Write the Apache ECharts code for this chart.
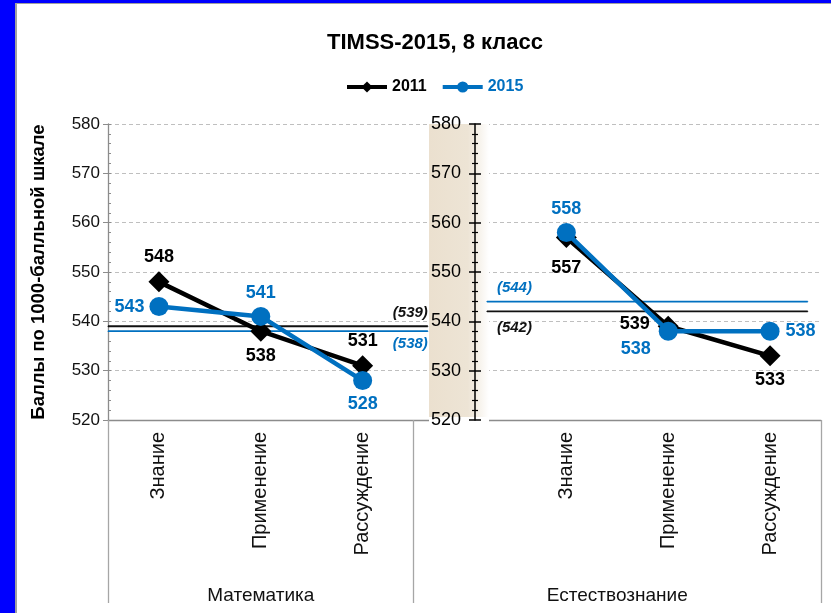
<!DOCTYPE html>
<html>
<head>
<meta charset="utf-8">
<script src="https://cdn.jsdelivr.net/npm/echarts@6/dist/echarts.min.js"></script>
<style>
  html, body { margin: 0; padding: 0; background: #0000ff; }
  #wrap { position: absolute; left: 15px; top: 3px; width: 816px; height: 610px; background: #fff; border-left: 2px solid #a0a0a0; border-top: 1px solid #a0a0a0; }
  #chart { position: absolute; left: -17px; top: -4px; width: 831px; height: 613px; }
</style>
</head>
<body>
<div id="wrap"><div id="chart"></div></div>
<script>
// категории (4-я пустая — промежуток между предметами)
const categories = ['Знание', 'Применение', 'Рассуждение', '', 'Знание', 'Применение', 'Рассуждение']
const groups = ['Математика', 'Естествознание']
const groupSpans = [[0, 3], [3, 7]]
const scores2011 = [548, 538, 531, null, 557, 539, 533]
const scores2015 = [543, 541, 528, null, 558, 538, 538]
// средние значения (в скобках)
const avgMath2011 = 539
const avgMath2015 = 538
const avgSci2011 = 542
const avgSci2015 = 544

const BLUE = '#0070C0'
const ARIAL = '"Liberation Sans", Arial, sans-serif'

// позиции подписей точек
const pos2011 = ['top', 'bottom', 'top', null, 'bottom', 'left', 'bottom']
const pos2015 = ['left', 'top', 'bottom', null, 'top', 'left', 'right']

function withLabels(values, positions, extra) {
  return values.map((v, i) => {
    if (v == null) return null
    const lbl = { show: true, position: positions[i], distance: 5 }
    if (extra[i]) Object.assign(lbl, extra[i])
    return { value: v, label: lbl }
  })
}

function avgLabel(val, color, pos, align, dist, dx) {
  return {
    show: true, position: pos, align: align, distance: dist, offset: [dx, 0],
    formatter: '(' + val + ')', color: color,
    fontFamily: ARIAL, fontWeight: 'bold', fontStyle: 'italic', fontSize: 15
  }
}

function avgSeries(name, color, from, to, val, labelAt, lbl) {
  const pts = [[from, val], [to, val]]
  pts[labelAt] = { value: pts[labelAt], label: lbl }
  return {
    name: name,
    type: 'line',
    xAxisIndex: 1,
    yAxisIndex: 0,
    symbol: 'circle',
    symbolSize: 1,
    lineStyle: { color: color, width: 1.8 },
    itemStyle: { color: color },
    data: pts,
    z: 3
  }
}

const chart = echarts.init(document.getElementById('chart'))

const labelFont = { fontFamily: ARIAL, fontWeight: 'bold', fontSize: 18 }

const option = {
  animation: false,
  title: {
    text: 'TIMSS-2015, 8 класс',
    left: 322,
    top: 27,
    textStyle: { fontFamily: ARIAL, fontWeight: 'bold', fontSize: 22, color: '#000' }
  },
  legend: {
    top: 74,
    left: 340,
    itemWidth: 40,
    itemHeight: 14,
    itemGap: 14,
    textStyle: { fontFamily: ARIAL, fontWeight: 'bold', fontSize: 16 },
    data: [
      { name: '2011', textStyle: { color: '#000' }, lineStyle: { width: 4 } },
      { name: '2015', textStyle: { color: BLUE }, lineStyle: { width: 4 } }
    ]
  },
  grid: [
    { left: 108, top: 124, width: 713, height: 296 },
    { left: 475, top: 124, width: 346, height: 296 }
  ],
  xAxis: [
    {
      type: 'category',
      gridIndex: 0,
      data: categories,
      boundaryGap: true,
      axisLine: { lineStyle: { color: '#8c8c8c', width: 1.3 } },
      axisTick: { interval: 0, length: 155, lineStyle: { color: '#a6a6a6', width: 1.3 } },
      axisLabel: { interval: 0, rotate: 90, margin: 12, fontFamily: ARIAL, fontSize: 20, color: '#111' }
    },
    {
      type: 'value',
      gridIndex: 0,
      min: 0,
      max: 7,
      position: 'bottom',
      offset: 0,
      axisLine: { show: false },
      splitLine: { show: false },
      axisTick: { show: true, customValues: groupSpans.map(s => s[0]).concat([7]), length: 183, lineStyle: { color: '#a6a6a6', width: 1.3 } },
      axisLabel: {
        customValues: groupSpans.map(s => (s[0] + s[1]) / 2),
        formatter: v => {
          const i = groupSpans.findIndex(s => (s[0] + s[1]) / 2 === v)
          return i >= 0 ? groups[i] : ''
        },
        margin: 166,
        fontFamily: ARIAL,
        fontSize: 19,
        color: '#111'
      }
    },
    { type: 'value', gridIndex: 1, min: 0, max: 1, show: false }
  ],
  yAxis: [
    {
      type: 'value',
      gridIndex: 0,
      position: 'left',
      offset: 0,
      min: 520,
      max: 580,
      interval: 10,
      name: 'Баллы по 1000-балльной шкале',
      nameLocation: 'middle',
      nameGap: 60,
      nameTextStyle: { fontFamily: ARIAL, fontWeight: 'bold', fontSize: 18.5, color: '#000' },
      axisLine: { show: true, onZero: false, lineStyle: { color: '#8c8c8c', width: 1.3 } },
      axisTick: { show: true, length: 5, lineStyle: { color: '#8c8c8c' } },
      axisLabel: { margin: 8, fontFamily: ARIAL, fontSize: 17, color: '#111' },
      splitLine: { show: true, lineStyle: { color: '#bfbfbf', type: [4, 3], width: 1 } }
    },
    {
      type: 'value',
      gridIndex: 0,
      position: 'left',
      offset: 0,
      min: 520,
      max: 580,
      interval: 10,
      axisLine: { show: false, onZero: false },
      axisLabel: { show: false },
      splitLine: { show: false },
      axisTick: { show: true, inside: true, length: 3, lineStyle: { color: '#8c8c8c' } },
      minorTick: { show: true, splitNumber: 5, length: 3, lineStyle: { color: '#8c8c8c' } }
    },
    {
      type: 'value',
      gridIndex: 1,
      position: 'left',
      offset: 0,
      min: 520,
      max: 580,
      interval: 10,
      z: 10,
      axisLine: { show: true, onZero: false, lineStyle: { color: '#000', width: 1.5 } },
      axisTick: { show: true, length: 6, lineStyle: { color: '#000', width: 1.5 } },
      minorTick: { show: true, splitNumber: 5, length: 3, lineStyle: { color: '#000', width: 1.2 } },
      axisLabel: { margin: 14, fontFamily: ARIAL, fontSize: 18, color: '#000' },
      splitLine: { show: false }
    },
    {
      type: 'value',
      gridIndex: 1,
      position: 'left',
      offset: 0,
      min: 520,
      max: 580,
      interval: 10,
      z: 10,
      axisLine: { show: false, onZero: false },
      axisLabel: { show: false },
      splitLine: { show: false },
      axisTick: { show: true, inside: true, length: 6, lineStyle: { color: '#000', width: 1.5 } },
      minorTick: { show: true, splitNumber: 5, length: 3, lineStyle: { color: '#000', width: 1.2 } }
    }
  ],
  graphic: [
    {
      type: 'rect',
      z: 3,
      shape: { x: 429, y: 124, width: 60, height: 293 },
      style: {
        fill: new echarts.graphic.LinearGradient(0, 0, 1, 0, [
          { offset: 0, color: '#ebe0cf' },
          { offset: 0.65, color: '#ede4d5' },
          { offset: 1, color: '#ffffff' }
        ])
      }
    },
    {
      type: 'rect',
      z: 3,
      shape: { x: 429, y: 417, width: 60, height: 6 },
      style: { fill: '#ffffff' }
    }
  ],
  series: [
    {
      name: '2011',
      type: 'line',
      xAxisIndex: 0,
      yAxisIndex: 0,
      data: withLabels(scores2011, pos2011, {
        4: { distance: 11 },
        5: { distance: 8, offset: [0, -2] }
      }),
      connectNulls: false,
      symbol: 'diamond',
      symbolSize: 21,
      lineStyle: { color: '#000', width: 4.5 },
      itemStyle: { color: '#000' },
      label: Object.assign({ color: '#000' }, labelFont),
      z: 4
    },
    {
      name: '2015',
      type: 'line',
      xAxisIndex: 0,
      yAxisIndex: 0,
      data: withLabels(scores2015, pos2015, {
        5: { distance: 8, offset: [0, 18] },
        6: { distance: 6 }
      }),
      connectNulls: false,
      symbol: 'circle',
      symbolSize: 19,
      lineStyle: { color: BLUE, width: 4.5 },
      itemStyle: { color: BLUE },
      label: Object.assign({ color: BLUE }, labelFont),
      z: 5
    },
    // линии средних значений
    avgSeries('avgMath2011', '#111', 0, 3.14, avgMath2011, 1, avgLabel(avgMath2011, '#111', 'top', 'right', 5, 0)),
    avgSeries('avgMath2015', BLUE, 0, 3.14, avgMath2015, 1, avgLabel(avgMath2015, BLUE, 'bottom', 'right', 5, 0)),
    avgSeries('avgSci2015', BLUE, 3.72, 6.87, avgSci2015, 0, avgLabel(avgSci2015, BLUE, 'top', 'left', 6, 10)),
    avgSeries('avgSci2011', '#111', 3.72, 6.87, avgSci2011, 0, avgLabel(avgSci2011, '#111', 'bottom', 'left', 8, 10))
  ]
}

chart.setOption(option)
</script>
</body>
</html>
